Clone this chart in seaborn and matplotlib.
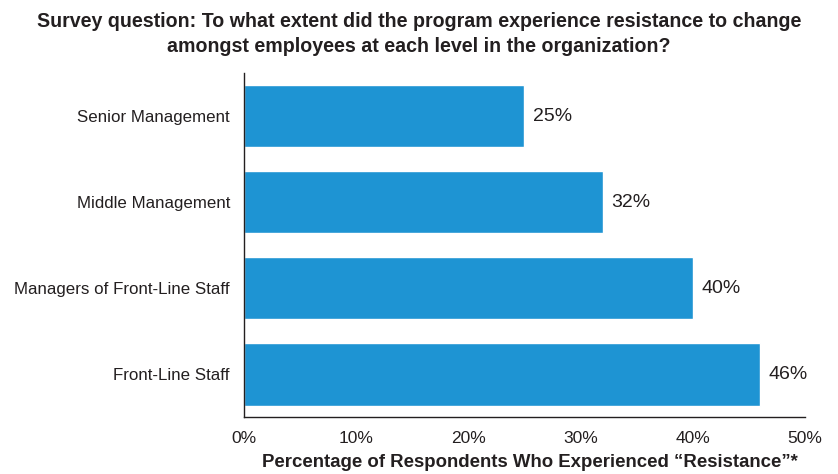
import matplotlib
matplotlib.use("Agg")
import matplotlib.pyplot as plt
import seaborn as sns
import pandas as pd

categories = ["Senior Management", "Middle Management", "Managers of Front-Line Staff", "Front-Line Staff"]
values = [25, 32, 40, 46]
xticks = [0, 10, 20, 30, 40, 50]
xtick_labels = ["0%", "10%", "20%", "30%", "40%", "50%"]

sns.set_style("white")
plt.rcParams['font.family'] = ['Liberation Sans', 'DejaVu Sans']

df = pd.DataFrame({"level": categories, "pct": values})

fig = plt.figure(figsize=(8.38, 4.74), dpi=100)
ax = fig.add_axes([0.291, 0.120, 0.6696, 0.726])
sns.barplot(data=df, y="level", x="pct", orient="h", color="#1e94d3", width=0.73,
            saturation=1, ax=ax)

for i, v in enumerate(values):
    ax.text(v + 0.75, i, f"{v}%", va="center", ha="left", fontsize=14, color="#231f20")

ax.set_xlim(0, 50)
ax.set_ylim(3.5, -0.5)
ax.set_xticks(xticks)
ax.set_xticklabels(xtick_labels, fontsize=12.5, color="#231f20")
ax.tick_params(axis="y", labelsize=12.2, colors="#231f20", length=0, pad=10)
ax.tick_params(axis="x", length=5, width=1, color="#231f20", direction="out", pad=5)
ax.set_ylabel("")
ax.set_xlabel("Percentage of Respondents Who Experienced \u201cResistance\u201d*",
              fontsize=13.4, fontweight="bold", color="#231f20")
ax.xaxis.set_label_coords(0.509, -0.108)
for s in ["top", "right"]:
    ax.spines[s].set_visible(False)
for s in ["left", "bottom"]:
    ax.spines[s].set_color("#231f20")
    ax.spines[s].set_linewidth(1)

fig.text(0.5, 0.975, "Survey question: To what extent did the program experience resistance to change\namongst employees at each level in the organization?",
         ha="center", va="top", fontsize=14.1, fontweight="bold", color="#231f20", linespacing=1.4)

fig.savefig("out.png", dpi=100)
